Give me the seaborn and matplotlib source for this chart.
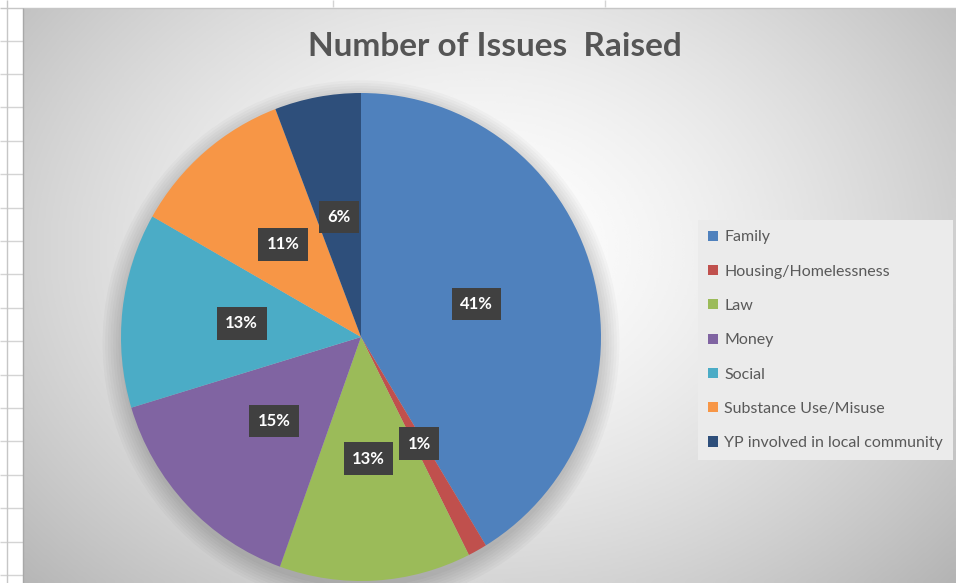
import matplotlib.pyplot as plt
import matplotlib.patches as mpatches
import seaborn as sns
import numpy as np

# data
categories = ['Family', 'Housing/Homelessness', 'Law', 'Money', 'Social',
              'Substance Use/Misuse', 'YP involved in local community']
issues = [64, 2, 20, 23, 20, 17, 9]
colors = ['#4F81BD', '#C0504D', '#9BBB59', '#8064A2', '#4BACC6', '#F79646', '#2E4F7B']
title = 'Number of Issues  Raised'

sns.set_style('white')
plt.rcParams['font.family'] = ['Lato', 'DejaVu Sans']
palette = sns.color_palette(colors)

W, H = 956, 583
fig = plt.figure(figsize=(W / 100, H / 100), dpi=100)
fig.patch.set_facecolor('white')

# spreadsheet behind the chart, in pixel coords
bg = fig.add_axes([0, 0, 1, 1])
bg.set_xlim(0, W)
bg.set_ylim(H, 0)
bg.axis('off')
for yy in np.arange(40.5, H, 33.4):
    bg.hlines(yy, 0, 23, color='#d4d4d4', lw=1)
bg.hlines(7.5, 0, W, color='#c6c6c6', lw=1)
bg.vlines(7, 0, H, color='#c6c6c6', lw=1)
bg.vlines([333, 605], 0, 7, color='#d4d4d4', lw=1)

# radial gradient chart area
gx, gy = np.meshgrid(np.linspace(24, W, 400), np.linspace(8, H, 250))
d = np.sqrt(((gx - 480) / 560) ** 2 + ((gy - 250) / 430) ** 2)
shade = 1.0 - 0.24 * np.clip(d, 0, 1.15) ** 1.5
bg.imshow(shade, cmap='gray', vmin=0, vmax=1, extent=[24, W, H, 8],
          aspect='auto', interpolation='bicubic', zorder=0)
bg.vlines(23.5, 8, H, color='#a8a8a8', lw=1)

# pie
cx, cy, rx, ry = 361, 337, 240, 244
ax = fig.add_axes([(cx - rx) / W, (H - cy - ry) / H, 2 * rx / W, 2 * ry / H])
ax.set_facecolor('none')
for k in range(8):
    ax.add_patch(mpatches.Circle((0.0, -0.025), 1.0 + 0.011 * k, color='#000000',
                                 alpha=0.022, lw=0, zorder=0, clip_on=False))
wedges, texts, autotexts = ax.pie(issues, colors=palette, startangle=90, counterclock=False,
                                  autopct='%1.0f%%', pctdistance=0.5,
                                  wedgeprops=dict(linewidth=0),
                                  textprops=dict(color='white', fontsize=12, fontweight='bold'))
for t in autotexts:
    t.set_bbox(dict(boxstyle='square,pad=0.5', fc='#404040', ec='none'))
ax.set_aspect('auto')
ax.set_xlim(-1, 1)
ax.set_ylim(-1, 1)

fig.text(495 / W, 1 - 47 / H, title, ha='center', va='center',
         fontsize=24, fontweight='bold', color='#555555')

leg = fig.legend(wedges, categories, loc='upper left',
                 bbox_to_anchor=(698 / W, 1 - 220 / H),
                 fontsize=11.5, frameon=True, fancybox=False,
                 handlelength=0.6, handleheight=0.6, handletextpad=0.4,
                 labelspacing=1.27, borderpad=0.65, borderaxespad=0)
leg.get_frame().set_facecolor('#ebebeb')
leg.get_frame().set_edgecolor('none')
leg.get_frame().set_alpha(1)
for t in leg.get_texts():
    t.set_color('#595959')

plt.savefig('out.png', dpi=100)
